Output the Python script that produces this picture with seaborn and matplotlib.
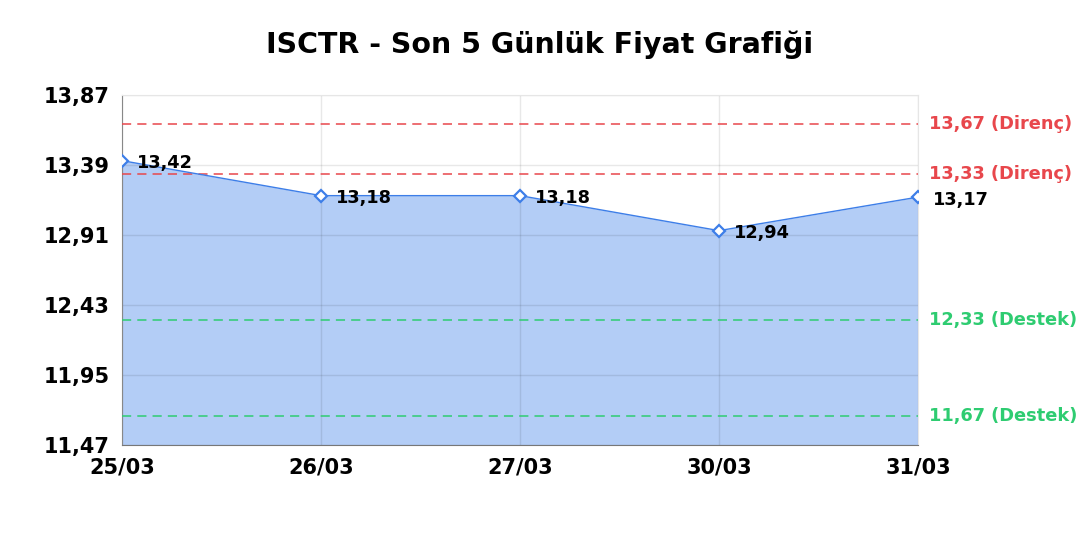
import numpy as np
import pandas as pd
import matplotlib
matplotlib.use('Agg')
import matplotlib.pyplot as plt
import seaborn as sns

# Chart data
dates = ['25/03', '26/03', '27/03', '30/03', '31/03']
prices = [13.42, 13.18, 13.18, 12.94, 13.17]
resistance = [13.67, 13.33]
support = [12.33, 11.67]
y_ticks = [11.47, 11.95, 12.43, 12.91, 13.39, 13.87]

line_blue = '#3d7ee8'
fill_blue = '#b3cdf6'
red = '#e8474c'
green = '#2ecc71'

sns.set_style('white')
plt.rcParams['font.family'] = 'sans-serif'
plt.rcParams['font.sans-serif'] = ['DejaVu Sans']
plt.rcParams['text.color'] = 'black'
plt.rcParams['xtick.color'] = 'black'
plt.rcParams['ytick.color'] = 'black'

df = pd.DataFrame({'pos': range(len(dates)), 'price': prices})

fig = plt.figure(figsize=(10.8, 5.4), dpi=100)
ax = fig.add_axes([0.113, 0.176, 0.737, 0.648])

# fill below the grid so the grid shows through it
ax.fill_between(df['pos'], df['price'], y_ticks[0], color=fill_blue, zorder=0.3, linewidth=0)
sns.lineplot(data=df, x='pos', y='price', ax=ax, color=line_blue, linewidth=1.0,
             marker='D', markersize=6.5, markerfacecolor='white',
             markeredgecolor=line_blue, markeredgewidth=1.6, zorder=4)

for v in resistance:
    ax.axhline(v, color=red, linestyle=(0, (6, 4)), linewidth=1.1, zorder=3)
    ax.annotate(f'{v:.2f}'.replace('.', ',') + ' (Direnç)', xy=(1, v),
                xycoords=('axes fraction', 'data'), xytext=(8, 0),
                textcoords='offset points', va='center', ha='left',
                color=red, fontsize=12.8, fontweight='bold')
for v in support:
    ax.axhline(v, color=green, linestyle=(0, (6, 4)), linewidth=1.1, zorder=3)
    ax.annotate(f'{v:.2f}'.replace('.', ',') + ' (Destek)', xy=(1, v),
                xycoords=('axes fraction', 'data'), xytext=(8, 0),
                textcoords='offset points', va='center', ha='left',
                color=green, fontsize=12.8, fontweight='bold')

for i, p in enumerate(prices):
    ax.annotate(f'{p:.2f}'.replace('.', ','), xy=(i, p), xytext=(11, -2),
                textcoords='offset points', va='center', ha='left',
                fontsize=12.8, fontweight='bold', color='black', zorder=5)

ax.set_xlim(0, len(dates) - 1)
ax.set_ylim(y_ticks[0], y_ticks[-1])
ax.set_xticks(range(len(dates)))
ax.set_xticklabels(dates, fontsize=15, fontweight='bold')
ax.set_yticks(y_ticks)
ax.set_yticklabels([f'{t:.2f}'.replace('.', ',') for t in y_ticks], fontsize=15, fontweight='bold')
ax.set_axisbelow(True)
ax.grid(True, color='black', alpha=0.09, linewidth=1)
ax.set_xlabel('')
ax.set_ylabel('')
ax.tick_params(axis='y', length=0, pad=9)
ax.tick_params(axis='x', length=0, pad=9)

for side in ['top', 'right']:
    ax.spines[side].set_color('#e6e6e6')
ax.spines['left'].set_color('#888888')
ax.spines['bottom'].set_color('#777777')

fig.suptitle('ISCTR - Son 5 Günlük Fiyat Grafiği', fontsize=20.5, fontweight='bold',
             y=0.918, va='center')

fig.savefig('out.png', dpi=100)
